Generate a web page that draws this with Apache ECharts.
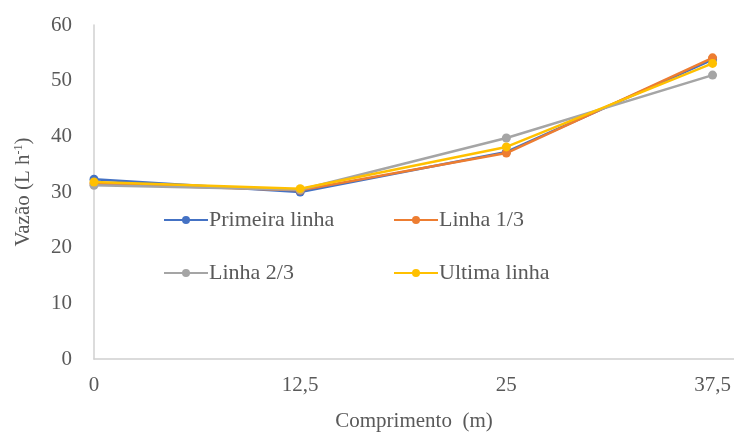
<!DOCTYPE html>
<html>
<head>
<meta charset="utf-8">
<script src="https://cdn.jsdelivr.net/npm/echarts@6/dist/echarts.min.js"></script>
<style>
  html, body { margin: 0; padding: 0; background: #fff; }
  #chart { width: 734px; height: 437px; }
</style>
</head>
<body>
<div id="chart"></div>
<script>
// comprimento (m)
var comprimento = [0, 12.5, 25, 37.5]
var seriesNames = ['Primeira linha', 'Linha 1/3', 'Linha 2/3', 'Ultima linha']
var primeira = [32.3, 30.0, 37.2, 53.8]
var linha13 = [31.5, 30.3, 37.0, 54.1]
var linha23 = [31.2, 30.4, 39.7, 51.0]
var ultima = [31.8, 30.6, 38.1, 53.1]
var colors = ['#4472C4', '#ED7D31', '#A5A5A5', '#FFC000']

var textColor = '#595959'
var font = 'Liberation Serif'
var chart = echarts.init(document.getElementById('chart'))

function pairs(vals) {
  return comprimento.map(function (x, i) { return [x, vals[i]] })
}

var allData = [primeira, linha13, linha23, ultima]
var legendPos = [[158, 204], [388, 204], [158, 257], [388, 257]]

chart.setOption({
  animation: false,
  grid: {left: 94, right: 0, top: 25, bottom: 76},
  legend: seriesNames.map(function (n, i) {
    return {
      data: [n],
      left: legendPos[i][0],
      top: legendPos[i][1],
      itemWidth: 44,
      itemHeight: 10,
      itemGap: 0,
      textStyle: {fontFamily: font, fontSize: 22, color: textColor, padding: [0, 0, 0, -4]}
    }
  }),
  xAxis: {
    type: 'value',
    min: 0,
    max: 38.8,
    interval: 12.5,
    name: 'Comprimento  (m)',
    nameLocation: 'middle',
    nameGap: 52,
    nameTextStyle: {fontFamily: font, fontSize: 21, color: textColor},
    axisLine: {lineStyle: {color: '#d0d0d0', width: 1.5}},
    axisTick: {show: false},
    splitLine: {show: false},
    axisLabel: {
      showMaxLabel: false,
      margin: 16,
      fontFamily: font, fontSize: 21, color: textColor,
      formatter: function (v) { return String(v).replace('.', ',') }
    }
  },
  yAxis: {
    type: 'value',
    min: 0,
    max: 60,
    interval: 10,
    name: '{n|Vazão (L h}{s|-1}{n|)}',
    nameLocation: 'middle',
    nameGap: 60,
    nameTextStyle: {
      rich: {
        n: {fontFamily: font, fontSize: 21, color: textColor},
        s: {fontFamily: font, fontSize: 12, color: textColor, verticalAlign: 'top', padding: [0, 0, 8, 0]}
      }
    },
    axisLine: {show: true, lineStyle: {color: '#d0d0d0', width: 1.5}},
    axisTick: {show: false},
    splitLine: {show: false},
    axisLabel: {margin: 22, fontFamily: font, fontSize: 21, color: textColor}
  },
  series: seriesNames.map(function (n, i) {
    return {
      name: n,
      type: 'line',
      data: pairs(allData[i]),
      color: colors[i],
      symbol: 'circle',
      symbolSize: 9,
      lineStyle: {width: 2.5},
      z: 2 + i
    }
  })
})
</script>
</body>
</html>
